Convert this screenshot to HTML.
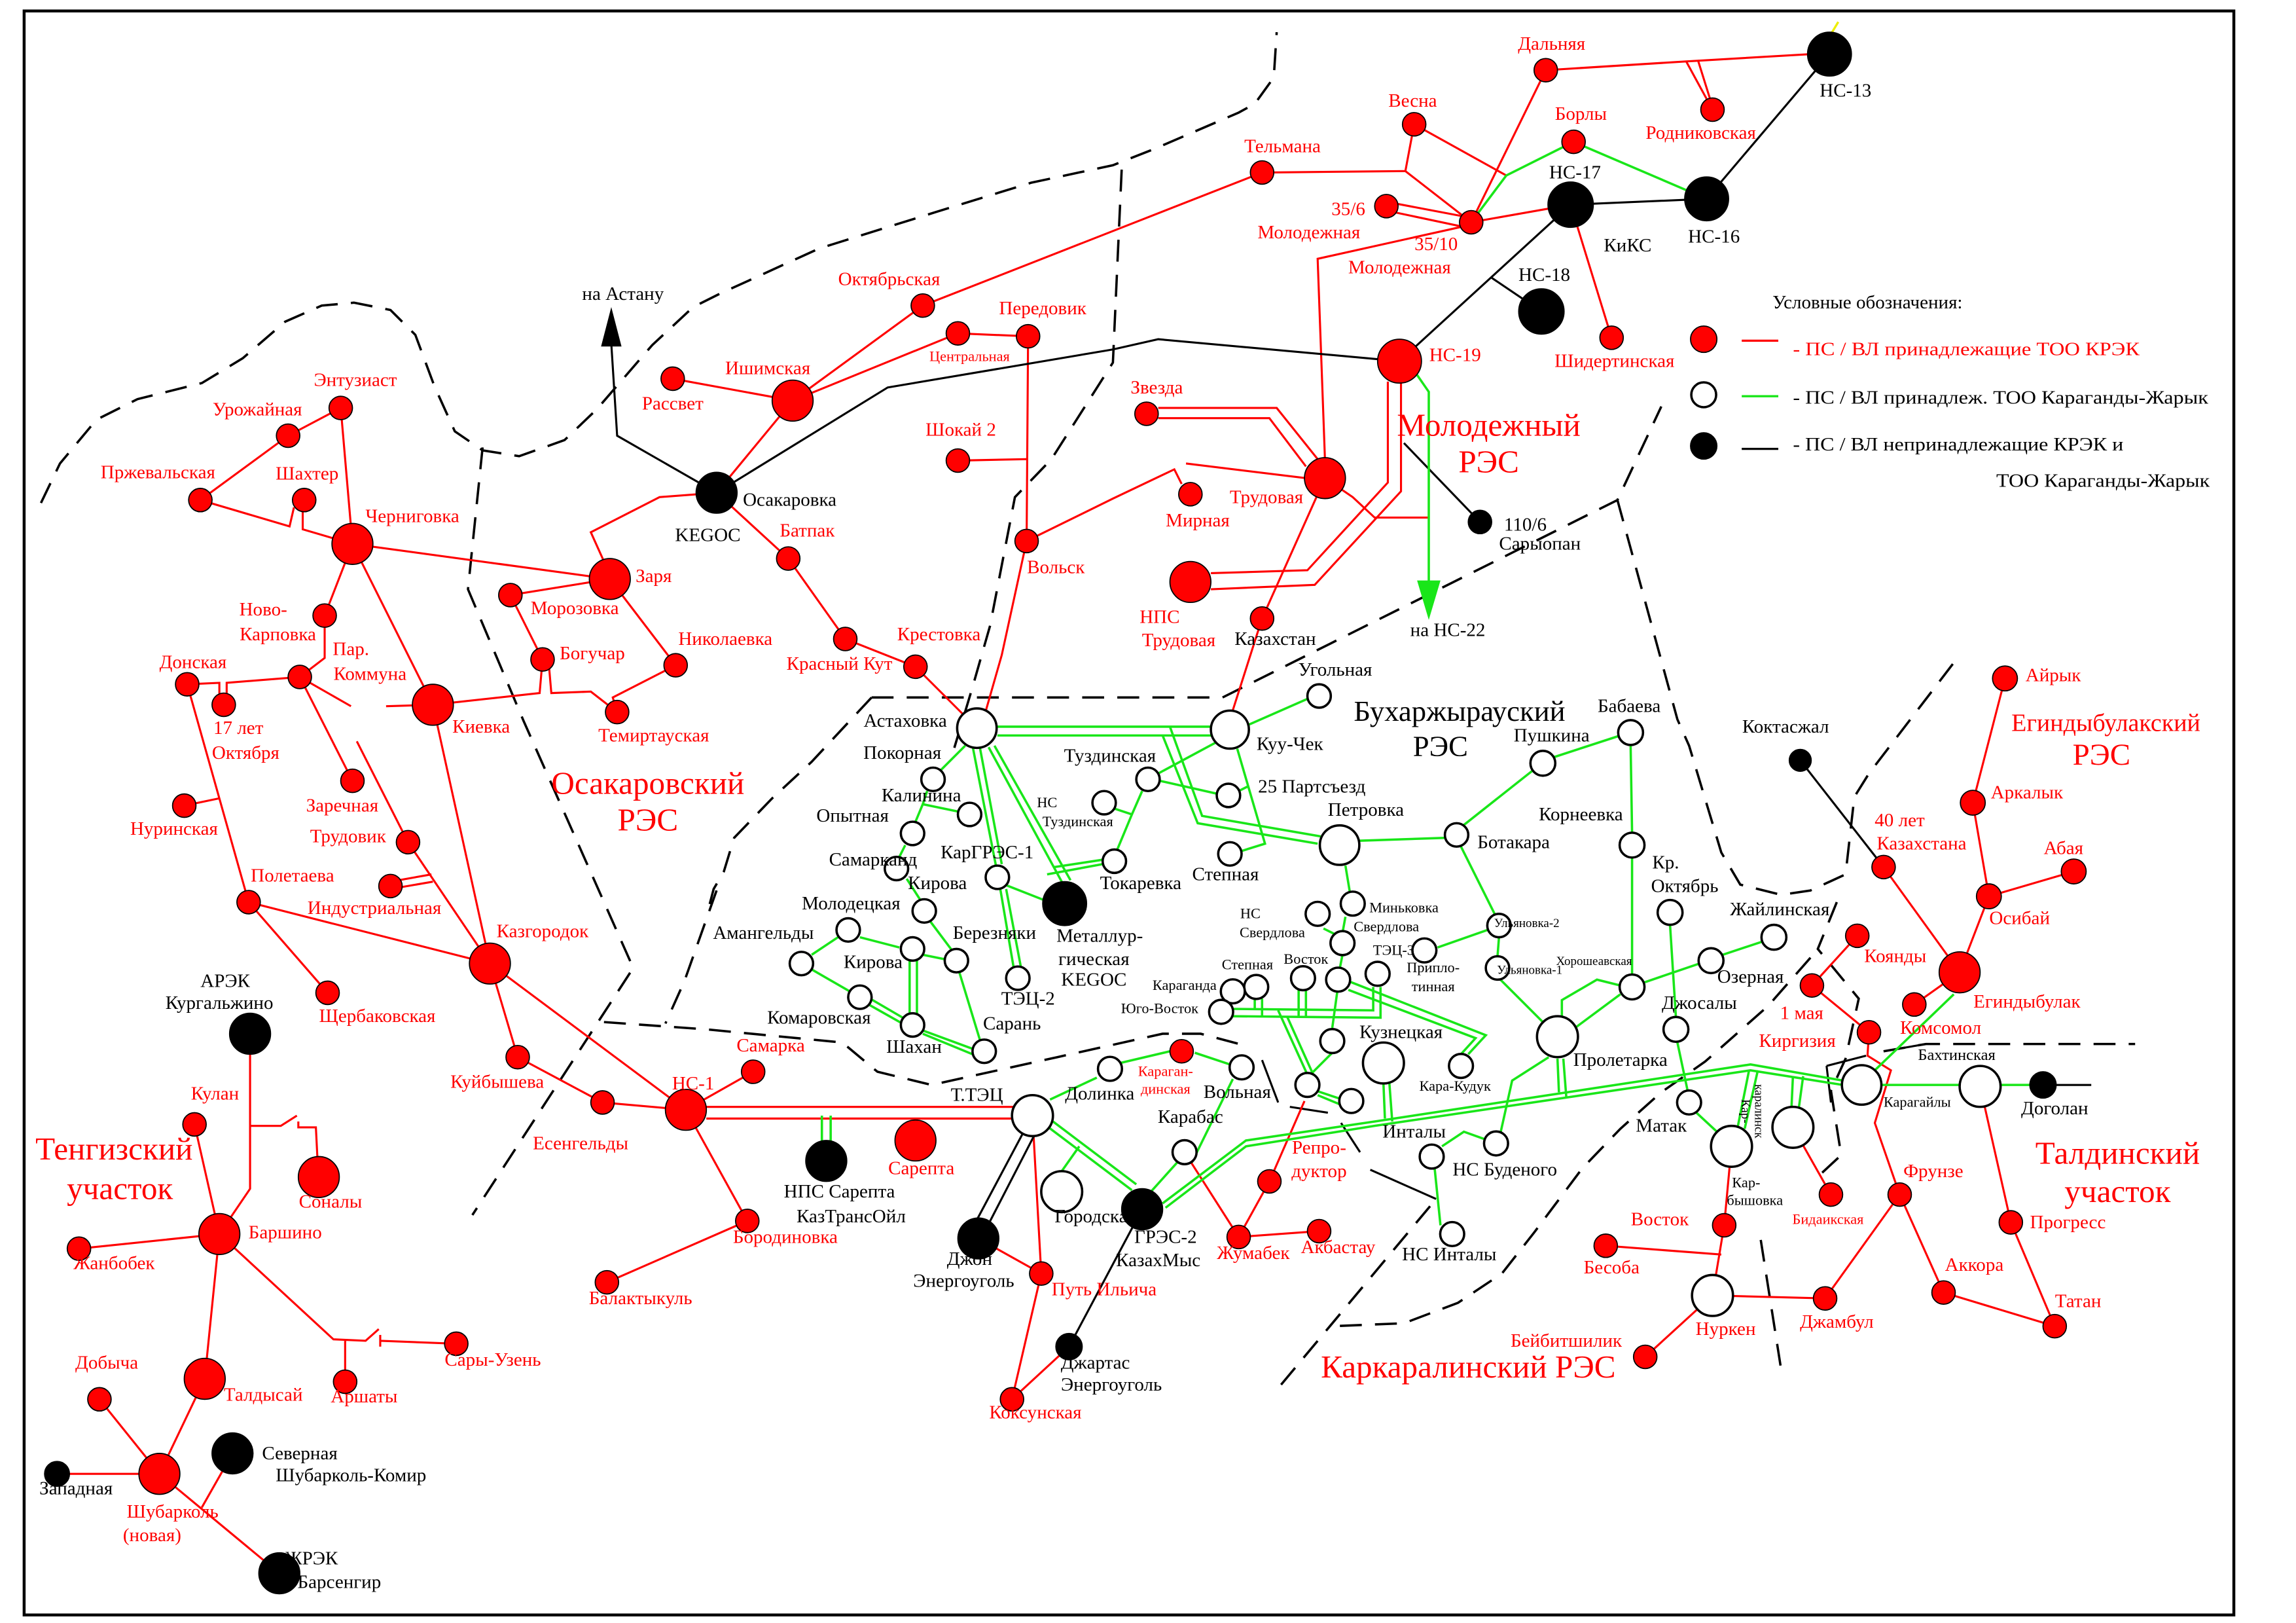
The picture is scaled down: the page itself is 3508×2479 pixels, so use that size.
<!DOCTYPE html>
<html><head><meta charset="utf-8">
<style>
html,body{margin:0;padding:0;background:#fff;}
svg{display:block}
.R{fill:#f00;stroke:#000;stroke-width:.8}
.W{fill:#fff;stroke:#000;stroke-width:1.6}
.B{fill:#000;stroke:#000;stroke-width:.8}
.rl{stroke:#f00;fill:none;stroke-width:1.4}
.gl{stroke:#19e619;fill:none;stroke-width:1.6}
.bl{stroke:#000;fill:none;stroke-width:1.4}
.dl{stroke:#000;fill:none;stroke-width:1.6;stroke-dasharray:15 9}
text{font-family:"Liberation Serif",serif;font-size:13px;text-anchor:middle}
.r{fill:#f00}
.k{fill:#000}
.s{font-size:10px}
.xs{font-size:8.5px}
.big{font-size:22px}
.bigk{font-size:22px;fill:#000}
</style></head><body>
<svg width="3508" height="2479" viewBox="0 0 1570 1110" preserveAspectRatio="none" xmlns="http://www.w3.org/2000/svg">
<rect x="0" y="0" width="1570" height="1110" fill="#fff"/>
<rect x="16.5" y="7.5" width="1511" height="1097" fill="none" stroke="#000" stroke-width="2"/>

<!-- DASHED BOUNDARIES -->
<path class="dl" d="M28,344 L41,317 L66,287 L94,273 L138,262 L166,245 L195,220 L220,209 L242,207 L267,212 L284,229 L297,264 L311,295 L330,308 L355,312 L386,301 L408,280 L446,236 L474,210 L492,201 L560,170 L640,145 L705,125 L761,113 L789,102 L847,77 L858,71 L871,53 L873,22"/>
<path class="dl" d="M330,306 L320,403 L358,493 L433,662 L323,831"/>
<path class="dl" d="M767,116 L761,248 L719,314 L694,340 L677,428 L665,470 L650,520"/>
<path class="dl" d="M490,609 L468,671 L455,700"/>
<path class="dl" d="M596,477 L555,521 L528,546 L502,573 L495,596 L488,608 L483,627"/>
<path class="dl" d="M596,477 L836,477 L1106,342 L1136,278"/>
<path class="dl" d="M1106,342 L1147,492 L1155,510 L1177,583 L1190,605 L1218,612 L1238,609 L1262,598 L1268,545 L1278,529 L1340,448"/>
<path class="dl" d="M1256,617 L1243,649 L1271,683 L1262,724 L1252,746 L1259,790 L1246,802"/>
<path class="dl" d="M1204,848 L1218,937"/>
<path class="dl" d="M413,699 L483,704 L576,713 L600,733 L637,742 L723,723 L795,707 L821,707 L855,716"/>
<path class="dl" d="M1238,655 L1209,688 L1166,726 L1136,747 L1108,772 L1082,799 L1049,843 L1027,871 L997,891 L960,905 L911,907"/>
<path class="dl" d="M876,947 L982,820"/>
<path class="dl" d="M1288,719 L1317,714 L1460,714"/>
<path class="bl" d="M1288,719 L1317,714"/>
<path class="bl" d="M863,725 L874,754 M882,757 L908,761 M917,768 L930,788 M937,800 L982,820"/>

<!-- RED LINES -->
<g class="rl">
<path d="M1006,152 L1057,48 L1153,42 L1238,37"/>
<path d="M1153,42 L1171,75 M1161,41 L1171,73"/>
<path d="M967,85 L961,117 L1006,152 M967,85 L1030,120"/>
<path d="M863,118 L961,117"/>
<path d="M863,118 L631,209 L542,274"/>
<path d="M948,138 L1006,149 M948,144 L1000,155"/>
<path d="M1006,152 L1074,140"/>
<path d="M1000,155 L901,177 L906,314"/>
<path d="M1074,140 L1102,231"/>
<path d="M542,274 L655,228 L703,230 L702,370"/>
<path d="M655,315 L702,314"/>
<path d="M542,274 L490,337"/>
<path d="M460,259 L542,274"/>
<path d="M490,337 L451,340 L404,364 L413,384 M417,396 L241,372"/>
<path d="M490,337 L539,382 L578,437 L626,456 L668,498"/>
<path d="M702,370 L685,448 L673,490"/>
<path d="M702,370 L761,341 L803,321 L808,331 M811,317 L893,327"/>
<path d="M792,279 L873,279 L901,314 M792,286 L868,286 L893,319"/>
<path d="M949,261 L949,330 L894,390 L828,392 M958,262 L958,336 L899,400 L828,403"/>
<path d="M906,327 L925,340 L940,354 L977,354"/>
<path d="M906,327 L863,423 L841,492"/>
<path d="M233,279 L241,372 M233,279 L197,298 L137,342 L198,360 L201,347 M207,350 L207,362 L241,372"/>
<path d="M241,372 L222,421 L222,450 L205,463 M241,372 L296,482 L335,659"/>
<path d="M128,468 L150,467 L150,478 M155,478 L155,467 L205,463"/>
<path d="M205,463 L240,483 M264,483 L296,482"/>
<path d="M205,463 L241,534"/>
<path d="M244,507 L279,576 L335,659"/>
<path d="M267,603 L295,598 M267,608 L296,603"/>
<path d="M128,468 L170,617 L335,659 M170,617 L224,679"/>
<path d="M126,551 L150,546"/>
<path d="M296,482 L369,474 L371,451 M375,451 L377,474 L404,473 L422,487"/>
<path d="M422,487 L419,477 L462,455 L417,396"/>
<path d="M349,407 L417,396 M349,407 L371,451"/>
<path d="M335,659 L354,723 L412,754 L469,759 M335,659 L469,759"/>
<path d="M469,759 L515,733 M469,759 L511,835 L415,877"/>
<path d="M483,757 L706,757 M483,765 L706,765"/>
<path d="M706,763 L712,871 L692,957 L731,921"/>
<path d="M669,847 L712,871"/>
<path d="M810,788 L847,846 L902,842 M847,846 L868,808 L892,753"/>
<path d="M171,770 L192,770 L203,763 M204,767 L204,771 L216,771 L217,791"/>
<path d="M150,844 L133,769 M150,844 L54,854 M150,844 L140,943 L109,1008 L68,957 M109,1008 L39,1008 M109,1008 L191,1076 M138,1031 L159,994"/>
<path d="M150,844 L228,916 L250,917 L259,909 M260,913 L260,921 M260,917 L312,919 M236,916 L236,945"/>
<path d="M171,707 L171,813 L150,844"/>
<path d="M1371,464 L1349,549 L1360,613 L1418,596 M1360,613 L1340,665 L1288,593 M1340,665 L1309,687"/>
<path d="M1270,640 L1239,674 L1278,706 L1277,722 L1293,732 L1282,768 L1299,817 L1329,884 L1405,907 L1375,836 L1354,743 M1299,817 L1248,888 L1171,886 L1125,928"/>
<path d="M1171,886 L1179,838 L1184,784 M1098,852 L1177,858"/>
<path d="M1226,771 L1252,817"/>
</g>

<!-- BLACK LINES -->
<g class="bl">
<path d="M490,337 L422,298 L418,235"/>
<path d="M490,337 L607,265 L761,239 L792,232 L957,247"/>
<path d="M957,247 L1074,140 L1167,136 L1251,37"/>
<path d="M1020,190 L1054,213"/>
<path d="M960,303 L1012,357"/>
<path d="M1231,520 L1288,593"/>
<path d="M1249,729 L1276,722 M1249,729 L1252,754"/>
<path d="M1397,742 L1430,742"/>
<path d="M700,774 L666,838 M708,775 L674,841"/>
<path d="M781,827 L731,921"/>
</g>
<path d="M418,210 L411,237 L425,237 Z" fill="#000"/>
<path d="M1251,25 L1257,15" stroke="#ee0" stroke-width="1.5"/>

<!-- GREEN LINES -->
<g class="gl">
<path d="M1006,152 L1030,120 L1076,97 L1167,136"/>
<path d="M968,255 L977,268 L977,400"/>
<path d="M682,497 L828,497 M682,503 L828,503"/>
<path d="M800,497 L822,558 L903,572 M795,503 L819,563 L901,577"/>
<path d="M846,512 L865,577 L849,582"/>
<path d="M831,508 L792,529 M793,534 L833,543 M845,542 L853,538"/>
<path d="M781,541 L774,557 L764,581 M762,553 L774,557"/>
<path d="M754,588 L721,593 M754,591 L716,598"/>
<path d="M665,510 L681,592 M670,511 L685,591 M676,511 L726,603 M680,510 L732,602"/>
<path d="M660,510 L643,527 M634,541 L631,550 L626,562 M631,550 L655,555"/>
<path d="M619,578 L615,586 M620,601 L629,615 M636,630 L651,650 M656,665 L670,711"/>
<path d="M684,608 L693,661 M688,608 L698,661 M687,605 L715,616"/>
<path d="M555,653 L573,641 M588,641 L615,648 M631,653 L646,656"/>
<path d="M622,654 L622,694 M627,654 L627,694"/>
<path d="M555,663 L581,678 M595,683 L619,697 M594,687 L617,700"/>
<path d="M629,704 L667,718 M631,707 L665,721"/>
<path d="M929,575 L989,573 M920,592 L923,610 M920,627 L918,638 M905,635 L913,639 M983,648 L1020,635 M918,653 L916,663"/>
<path d="M842,690 L939,691 L939,675 M842,695 L944,696 L944,675"/>
<path d="M858,683 L858,690 M863,683 L863,695 M888,677 L888,695 M893,677 L893,695"/>
<path d="M915,674 L911,703 M911,720 L896,735"/>
<path d="M922,671 L1016,708 L1004,721 M922,677 L1009,710 L999,721"/>
<path d="M874,691 L894,735 M880,695 L898,735"/>
<path d="M766,727 L800,719 M817,720 L841,728 M750,737 L718,752"/>
<path d="M894,478 L853,496"/>
<path d="M1000,565 L1048,527 M1062,518 L1108,503 M1115,509 L1116,569 M1116,585 L1116,667"/>
<path d="M999,579 L1022,625 M1025,641 L1024,654 M1026,670 L1056,700"/>
<path d="M1124,672 L1162,659 M1178,653 L1205,644"/>
<path d="M1108,674 L1092,670 L1068,684 L1068,697 M1108,680 L1077,703"/>
<path d="M1142,633 L1146,696 M1147,713 L1154,746 M1160,761 L1174,774"/>
<path d="M1065,724 L1066,747 M1069,724 L1071,750"/>
<path d="M1059,723 L1034,739 L1026,775 M986,784 L1001,774 L1015,779 M981,799 L985,838"/>
<path d="M946,741 L947,765 M950,740 L952,767"/>
<path d="M795,823 L852,780 L940,767 L1197,728 L1260,739 M797,826 L852,784 L940,770 L1197,732 L1260,742"/>
<path d="M1196,732 L1188,772 M1202,732 L1193,772 M1226,736 L1225,758 M1233,736 L1230,758"/>
<path d="M1336,680 L1282,732 M1287,742 L1340,742 M1368,742 L1390,742"/>
<path d="M717,771 L774,814 M720,767 L777,810 M726,801 L738,784"/>
<path d="M787,815 L805,795 M815,795 L843,738"/>
<path d="M562,763 L562,780 M568,763 L568,780"/>
<path d="M901,749 L918,756 M900,746 L918,752"/>
</g>
<path d="M977,424 L969,397 L985,397 Z" fill="#19e619"/>

<!-- RED NODES -->
<g class="R">
<circle cx="1057" cy="48" r="8"/><circle cx="967" cy="85" r="8"/><circle cx="1076" cy="97" r="8"/>
<circle cx="1171" cy="75" r="8"/><circle cx="863" cy="118" r="8"/><circle cx="948" cy="141" r="8"/>
<circle cx="1006" cy="152" r="8"/><circle cx="1102" cy="231" r="8"/><circle cx="957" cy="247" r="15"/>
<circle cx="784" cy="283" r="8"/><circle cx="906" cy="327" r="14"/><circle cx="814" cy="338" r="8"/>
<circle cx="814" cy="398" r="14"/><circle cx="863" cy="423" r="8"/>
<circle cx="631" cy="209" r="8"/><circle cx="703" cy="230" r="8"/><circle cx="655" cy="228" r="8"/>
<circle cx="542" cy="274" r="14"/><circle cx="460" cy="259" r="8"/><circle cx="655" cy="315" r="8"/>
<circle cx="702" cy="370" r="8"/><circle cx="539" cy="382" r="8"/><circle cx="578" cy="437" r="8"/><circle cx="626" cy="456" r="8"/>
<circle cx="233" cy="279" r="8"/><circle cx="197" cy="298" r="8"/><circle cx="137" cy="342" r="8"/>
<circle cx="208" cy="342" r="8"/><circle cx="241" cy="372" r="14"/><circle cx="222" cy="421" r="8"/>
<circle cx="205" cy="463" r="8"/><circle cx="128" cy="468" r="8"/><circle cx="153" cy="482" r="8"/>
<circle cx="296" cy="482" r="14"/><circle cx="241" cy="534" r="8"/><circle cx="279" cy="576" r="8"/>
<circle cx="126" cy="551" r="8"/><circle cx="170" cy="617" r="8"/><circle cx="267" cy="606" r="8"/>
<circle cx="224" cy="679" r="8"/><circle cx="335" cy="659" r="14"/>
<circle cx="417" cy="396" r="14"/><circle cx="349" cy="407" r="8"/><circle cx="371" cy="451" r="8"/>
<circle cx="462" cy="455" r="8"/><circle cx="422" cy="487" r="8"/>
<circle cx="354" cy="723" r="8"/><circle cx="412" cy="754" r="8"/><circle cx="469" cy="759" r="14"/>
<circle cx="515" cy="733" r="8"/><circle cx="511" cy="835" r="8"/><circle cx="415" cy="877" r="8"/>
<circle cx="626" cy="780" r="14"/><circle cx="712" cy="871" r="8"/><circle cx="692" cy="957" r="8"/>
<circle cx="808" cy="719" r="8"/><circle cx="868" cy="808" r="8"/><circle cx="847" cy="846" r="8"/><circle cx="902" cy="842" r="8"/>
<circle cx="133" cy="769" r="8"/><circle cx="218" cy="805" r="14"/><circle cx="150" cy="844" r="14"/>
<circle cx="54" cy="854" r="8"/><circle cx="140" cy="943" r="14"/><circle cx="68" cy="957" r="8"/>
<circle cx="109" cy="1008" r="14"/><circle cx="236" cy="945" r="8"/><circle cx="312" cy="919" r="8"/>
<circle cx="1371" cy="464" r="8.5"/><circle cx="1349" cy="549" r="8.5"/><circle cx="1288" cy="593" r="8"/>
<circle cx="1418" cy="596" r="8.5"/><circle cx="1360" cy="613" r="8.5"/><circle cx="1270" cy="640" r="8"/>
<circle cx="1340" cy="665" r="14"/><circle cx="1239" cy="674" r="8"/><circle cx="1309" cy="687" r="8"/>
<circle cx="1278" cy="706" r="8"/><circle cx="1252" cy="817" r="8"/><circle cx="1299" cy="817" r="8"/>
<circle cx="1179" cy="838" r="8"/><circle cx="1098" cy="852" r="8"/><circle cx="1375" cy="836" r="8"/>
<circle cx="1329" cy="884" r="8"/><circle cx="1248" cy="888" r="8"/><circle cx="1405" cy="907" r="8"/>
<circle cx="1125" cy="928" r="8"/>
<circle cx="1165" cy="232" r="9"/>
</g>

<!-- BLACK NODES -->
<g class="B">
<circle cx="1251" cy="37" r="15"/><circle cx="1074" cy="140" r="15.5"/><circle cx="1167" cy="136" r="15"/>
<circle cx="1054" cy="213" r="15.5"/><circle cx="490" cy="337" r="14"/><circle cx="1012" cy="357" r="8"/>
<circle cx="1231" cy="520" r="7.5"/><circle cx="728" cy="618" r="15"/><circle cx="171" cy="707" r="14"/>
<circle cx="565" cy="794" r="14"/><circle cx="669" cy="847" r="14"/><circle cx="781" cy="827" r="14"/>
<circle cx="731" cy="921" r="9"/><circle cx="39" cy="1008" r="8.5"/><circle cx="159" cy="994" r="14"/>
<circle cx="191" cy="1076" r="14"/><circle cx="1397" cy="742" r="9"/>
<circle cx="1165" cy="305" r="9"/>
</g>

<!-- WHITE NODES -->
<g class="W">
<circle cx="668" cy="498" r="13.5"/><circle cx="841" cy="499" r="13"/><circle cx="902" cy="476" r="8"/>
<circle cx="638" cy="533" r="8"/><circle cx="663" cy="557" r="8"/><circle cx="624" cy="570" r="8"/>
<circle cx="613" cy="594" r="8"/><circle cx="682" cy="600" r="8"/><circle cx="632" cy="623" r="8"/>
<circle cx="785" cy="533" r="8"/><circle cx="755" cy="549" r="8"/><circle cx="840" cy="544" r="8"/>
<circle cx="762" cy="589" r="8"/><circle cx="841" cy="584" r="8"/><circle cx="916" cy="578" r="13.5"/>
<circle cx="548" cy="659" r="8"/><circle cx="580" cy="636" r="8"/><circle cx="624" cy="649" r="8"/>
<circle cx="654" cy="657" r="8"/><circle cx="696" cy="669" r="8"/><circle cx="588" cy="682" r="8"/>
<circle cx="624" cy="701" r="8"/><circle cx="673" cy="719" r="8"/>
<circle cx="996" cy="571" r="8"/><circle cx="1055" cy="522" r="8.5"/><circle cx="1115" cy="501" r="8.5"/>
<circle cx="1116" cy="578" r="8.5"/><circle cx="1142" cy="624" r="8.5"/><circle cx="1213" cy="641" r="8.5"/>
<circle cx="1170" cy="657" r="8.5"/><circle cx="1116" cy="675" r="8.5"/><circle cx="1146" cy="704" r="8.5"/>
<circle cx="1065" cy="709" r="14"/><circle cx="1025" cy="633" r="8"/><circle cx="1024" cy="662" r="8"/>
<circle cx="925" cy="618" r="8.2"/><circle cx="901" cy="625" r="8.2"/><circle cx="918" cy="645" r="8.2"/>
<circle cx="974" cy="650" r="8.2"/><circle cx="891" cy="669" r="8.2"/><circle cx="915" cy="670" r="8.2"/>
<circle cx="942" cy="666" r="8.2"/><circle cx="859" cy="675" r="8.2"/><circle cx="843" cy="678" r="8.2"/>
<circle cx="835" cy="692" r="8.2"/><circle cx="911" cy="712" r="8.2"/><circle cx="946" cy="727" r="14"/>
<circle cx="999" cy="729" r="8.2"/><circle cx="894" cy="742" r="8.2"/><circle cx="924" cy="753" r="8.2"/>
<circle cx="759" cy="731" r="8.2"/><circle cx="849" cy="730" r="8.2"/><circle cx="706" cy="763" r="14"/>
<circle cx="726" cy="815" r="14"/><circle cx="810" cy="788" r="8.2"/>
<circle cx="979" cy="791" r="8.2"/><circle cx="1023" cy="782" r="8.2"/><circle cx="993" cy="844" r="8.2"/>
<circle cx="1155" cy="754" r="8.2"/><circle cx="1184" cy="784" r="14"/><circle cx="1226" cy="771" r="14"/>
<circle cx="1273" cy="742" r="13.5"/><circle cx="1354" cy="743" r="14"/><circle cx="1171" cy="886" r="14"/>
<circle cx="1165" cy="270" r="8.5"/>
</g>

<!-- RED LABELS -->
<g class="r">
<text x="1061" y="34">Дальняя</text><text x="966" y="73">Весна</text><text x="1081" y="82">Борлы</text>
<text x="1163" y="95">Родниковская</text><text x="877" y="104">Тельмана</text>
<text x="922" y="147">35/6</text><text x="895" y="163">Молодежная</text>
<text x="982" y="171">35/10</text><text x="957" y="187">Молодежная</text>
<text x="1104" y="251">Шидертинская</text><text x="995" y="247">НС-19</text>
<text x="791" y="269">Звезда</text><text x="866" y="344">Трудовая</text><text x="819" y="360">Мирная</text>
<text x="793" y="426">НПС</text><text x="806" y="442">Трудовая</text>
<text x="608" y="195">Октябрьская</text><text x="713" y="215">Передовик</text>
<text x="663" y="247" class="s">Центральная</text><text x="525" y="256">Ишимская</text>
<text x="460" y="280">Рассвет</text><text x="657" y="298">Шокай 2</text><text x="722" y="392">Вольск</text>
<text x="552" y="367">Батпак</text><text x="642" y="438">Крестовка</text><text x="574" y="458">Красный Кут</text>
<text x="243" y="264">Энтузиаст</text><text x="176" y="284">Урожайная</text><text x="108" y="327">Пржевальская</text>
<text x="210" y="328">Шахтер</text><text x="282" y="357">Черниговка</text>
<text x="180" y="421">Ново-</text><text x="190" y="438">Карповка</text>
<text x="240" y="448">Пар.</text><text x="253" y="465">Коммуна</text>
<text x="132" y="457">Донская</text><text x="163" y="502">17 лет</text><text x="168" y="519">Октября</text>
<text x="329" y="501">Киевка</text><text x="234" y="555">Заречная</text><text x="238" y="576">Трудовик</text>
<text x="119" y="571">Нуринская</text><text x="200" y="603">Полетаева</text><text x="256" y="625">Индустриальная</text>
<text x="258" y="699">Щербаковская</text><text x="371" y="641">Казгородок</text>
<text x="447" y="398">Заря</text><text x="393" y="420">Морозовка</text><text x="405" y="451">Богучар</text>
<text x="496" y="441">Николаевка</text><text x="447" y="507">Темиртауская</text>
<text x="340" y="744">Куйбышева</text><text x="397" y="786">Есенгельды</text><text x="474" y="745">НС-1</text>
<text x="527" y="719">Самарка</text><text x="537" y="850">Бородиновка</text><text x="438" y="892">Балактыкуль</text>
<text x="630" y="803">Сарепта</text><text x="755" y="886">Путь Ильича</text><text x="708" y="970">Коксунская</text>
<text x="797" y="736" class="s">Караган-</text><text x="797" y="748" class="s">динская</text>
<text x="902" y="789">Репро-</text><text x="902" y="805">дуктор</text>
<text x="857" y="861">Жумабек</text><text x="915" y="857">Акбастау</text>
<text x="147" y="752">Кулан</text><text x="226" y="826">Соналы</text><text x="195" y="847">Баршино</text>
<text x="78" y="868">Жанбобек</text><text x="180" y="958">Талдысай</text><text x="73" y="936">Добыча</text>
<text x="118" y="1038">Шубарколь</text><text x="104" y="1054">(новая)</text>
<text x="249" y="959">Аршаты</text><text x="337" y="934">Сары-Узень</text>
<text x="1404" y="466">Айрык</text><text x="1386" y="546">Аркалык</text><text x="1411" y="584">Абая</text>
<text x="1381" y="632">Осибай</text><text x="1386" y="689">Егиндыбулак</text>
<text x="1299" y="565">40 лет</text><text x="1314" y="581">Казахстана</text>
<text x="1296" y="658">Коянды</text><text x="1232" y="697">1 мая</text><text x="1327" y="707">Комсомол</text>
<text x="1229" y="716">Киргизия</text><text x="1322" y="805">Фрунзе</text><text x="1414" y="840">Прогресс</text>
<text x="1350" y="869">Аккора</text><text x="1421" y="894">Татан</text><text x="1256" y="908">Джамбул</text>
<text x="1250" y="837" class="s">Бидаикская</text><text x="1135" y="838">Восток</text><text x="1102" y="871">Бесоба</text>
<text x="1071" y="921">Бейбитшилик</text><text x="1180" y="913">Нуркен</text>
<text x="1018" y="298" class="big">Молодежный</text><text x="1018" y="323" class="big">РЭС</text>
<text x="443" y="543" class="big">Осакаровский</text><text x="443" y="568" class="big">РЭС</text>
<text x="1440" y="500" style="font-size:17px">Егиндыбулакский</text><text x="1437" y="523" style="font-size:21px">РЭС</text>
<text x="78" y="793" class="big">Тенгизский</text><text x="82" y="820" class="big">участок</text>
<text x="1448" y="796" class="big">Талдинский</text><text x="1448" y="822" class="big">участок</text>
<text x="1004" y="942" class="big">Каркаралинский РЭС</text>
</g>

<!-- BLACK LABELS -->
<g class="k">
<text x="1262" y="66">НС-13</text><text x="1077" y="122">НС-17</text><text x="1172" y="166">НС-16</text>
<text x="1056" y="192">НС-18</text><text x="1113" y="172">КиКС</text>
<text x="426" y="205">на Астану</text><text x="540" y="346">Осакаровка</text><text x="484" y="370">KEGOC</text>
<text x="1043" y="363">110/6</text><text x="1053" y="376">Сарыопан</text><text x="990" y="435">на НС-22</text>
<text x="872" y="441">Казахстан</text><text x="913" y="462">Угольная</text>
<text x="998" y="493" class="bigk" style="font-size:20px">Бухаржырауский</text><text x="985" y="517" class="bigk" style="font-size:20px">РЭС</text>
<text x="619" y="497">Астаховка</text><text x="882" y="513">Куу-Чек</text><text x="617" y="519">Покорная</text>
<text x="759" y="521">Туздинская</text><text x="630" y="548">Калинина</text><text x="897" y="542">25 Партсъезд</text>
<text x="716" y="552" class="s">НС</text><text x="737" y="565" class="s">Туздинская</text>
<text x="583" y="562">Опытная</text><text x="934" y="558">Петровка</text><text x="597" y="592">Самарканд</text>
<text x="675" y="587">КарГРЭС-1</text><text x="838" y="602">Степная</text><text x="780" y="608">Токаревка</text>
<text x="641" y="608">Кирова</text><text x="582" y="622">Молодецкая</text><text x="680" y="642">Березняки</text>
<text x="752" y="644">Металлур-</text><text x="748" y="660">гическая</text><text x="748" y="674">KEGOC</text>
<text x="522" y="642">Амангельды</text><text x="597" y="662">Кирова</text><text x="703" y="687">ТЭЦ-2</text>
<text x="692" y="704">Сарань</text><text x="625" y="720">Шахан</text><text x="560" y="700">Комаровская</text>
<text x="1035" y="580">Ботакара</text><text x="1061" y="507">Пушкина</text><text x="1114" y="487">Бабаева</text>
<text x="1081" y="561">Корнеевка</text><text x="1139" y="594">Кр.</text><text x="1152" y="610">Октябрь</text>
<text x="1217" y="626">Жайлинская</text><text x="1197" y="672">Озерная</text>
<text x="1090" y="660" class="xs">Хорошеавская</text><text x="1044" y="634" class="xs">Ульяновка-2</text>
<text x="1046" y="666" class="xs">Ульяновка-1</text>
<text x="960" y="624" class="s">Миньковка</text><text x="855" y="628" class="s">НС</text><text x="870" y="641" class="s">Свердлова</text>
<text x="948" y="637" class="s">Свердлова</text><text x="980" y="665" class="s">Приплo-</text><text x="980" y="678" class="s">тинная</text>
<text x="953" y="653" class="s">ТЭЦ-3</text><text x="893" y="659" class="s">Восток</text><text x="853" y="663" class="s">Степная</text>
<text x="810" y="677" class="s">Караганда</text><text x="793" y="693" class="s">Юго-Восток</text>
<text x="958" y="710">Кузнецкая</text><text x="995" y="746" class="s">Кара-Кудук</text>
<text x="1108" y="729">Пролетарка</text><text x="846" y="751">Вольная</text><text x="752" y="752">Долинка</text>
<text x="668" y="753">Т.ТЭЦ</text><text x="814" y="768">Карабас</text><text x="749" y="836">Городская</text>
<text x="967" y="778">Инталы</text><text x="1029" y="804">НС Буденого</text><text x="991" y="862">НС Инталы</text>
<text x="1162" y="690">Джосалы</text><text x="1136" y="774">Матак</text>
<text x="1194" y="812" class="s">Кар-</text><text x="1200" y="824" class="s">бышовка</text>
<text x="1338" y="725" class="s" style="font-size:11px">Бахтинская</text><text x="1311" y="757" class="s">Карагайлы</text>
<text x="1405" y="762">Доголан</text><text x="1221" y="501">Коктасжал</text>
<text x="574" y="819">НПС Сарепта</text><text x="582" y="836">КазТрансОйл</text>
<text x="663" y="865">Джон</text><text x="659" y="880">Энергоуголь</text>
<text x="797" y="850">ГРЭС-2</text><text x="792" y="866">КазахМыс</text>
<text x="749" y="936">Джартас</text><text x="760" y="951">Энергоуголь</text>
<text x="154" y="675">АРЭК</text><text x="150" y="690">Кургальжино</text>
<text x="52" y="1022">Западная</text><text x="205" y="998">Северная</text><text x="240" y="1013">Шубарколь-Комир</text>
<text x="213" y="1070">ЖРЭК</text><text x="232" y="1086">Барсенгир</text>
<text x="1191" y="760" class="xs" transform="rotate(90 1191 760)">Кар-</text>
<text x="1200" y="760" class="xs" transform="rotate(90 1200 760)">карaлинск</text>
</g>

<!-- LEGEND -->
<text x="1212" y="211" class="k" style="text-anchor:start;font-size:13px">Условные обозначения:</text>
<line x1="1191" y1="233" x2="1216" y2="233" stroke="#f00" stroke-width="1.5"/>
<line x1="1191" y1="271" x2="1216" y2="271" stroke="#19e619" stroke-width="1.5"/>
<line x1="1191" y1="307" x2="1216" y2="307" stroke="#000" stroke-width="1.5"/>
<text x="1226" y="243" class="r" style="text-anchor:start" textLength="237" lengthAdjust="spacingAndGlyphs">- ПС / ВЛ  принадлежащие ТОО КРЭК</text>
<text x="1226" y="276" class="k" style="text-anchor:start" textLength="284" lengthAdjust="spacingAndGlyphs">- ПС / ВЛ принадлеж. ТОО Караганды-Жарык</text>
<text x="1226" y="308" class="k" style="text-anchor:start" textLength="226" lengthAdjust="spacingAndGlyphs">- ПС / ВЛ непринадлежащие КРЭК и</text>
<text x="1365" y="333" class="k" style="text-anchor:start" textLength="146" lengthAdjust="spacingAndGlyphs">ТОО Караганды-Жарык</text>
</svg>
</body></html>
